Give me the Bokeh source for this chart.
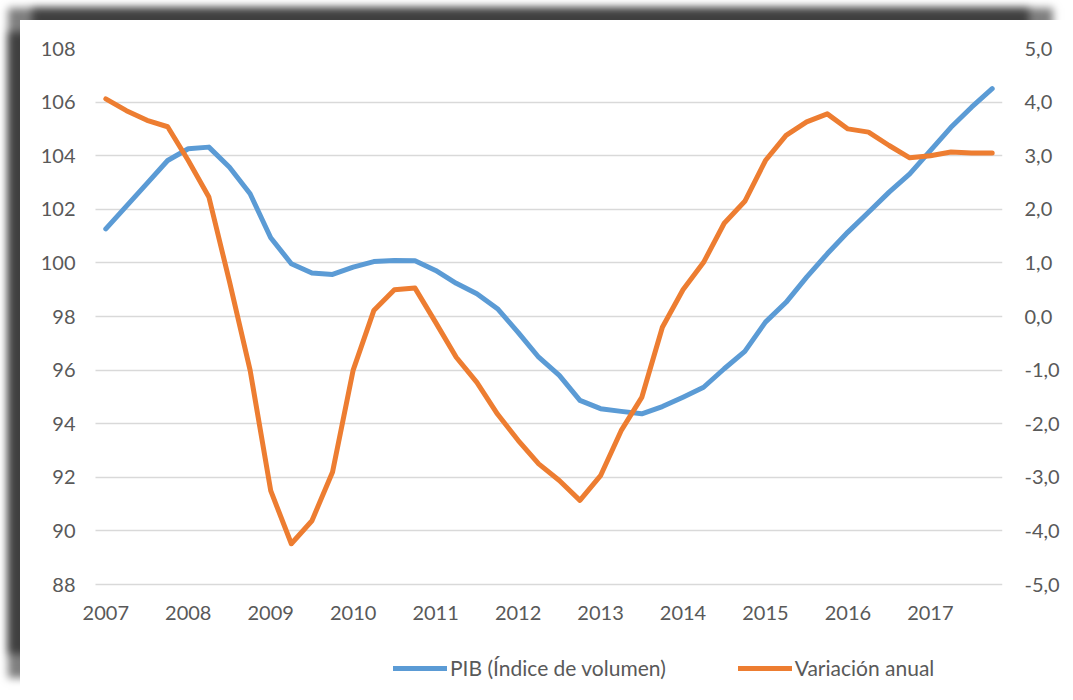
from bokeh.plotting import figure
from bokeh.models import (Range1d, LinearAxis, FixedTicker, CustomJSTickFormatter,
                          Legend, LegendItem, ColumnDataSource, Grid)
from bokeh.embed import file_html
from bokeh.resources import INLINE

# ---- data (quarterly, 2007Q1 .. 2017Q4) ----
years = ["2007", "2008", "2009", "2010", "2011", "2012",
         "2013", "2014", "2015", "2016", "2017"]

pib = [101.27, 102.12, 102.97, 103.82, 104.26, 104.32, 103.57, 102.58,
       100.94, 99.97, 99.62, 99.57, 99.84, 100.05, 100.09, 100.08,
       99.72, 99.24, 98.85, 98.29, 97.41, 96.48, 95.80, 94.87,
       94.56, 94.46, 94.37, 94.64, 94.99, 95.36, 96.05, 96.70,
       97.79, 98.53, 99.47, 100.34, 101.15, 101.89, 102.64, 103.32,
       104.19, 105.06, 105.81, 106.50]

variacion = [4.06, 3.84, 3.66, 3.54, 2.91, 2.23, 0.65, -1.00,
             -3.25, -4.24, -3.81, -2.90, -1.00, 0.11, 0.50, 0.53,
             -0.11, -0.76, -1.23, -1.82, -2.31, -2.75, -3.06, -3.43,
             -2.97, -2.13, -1.51, -0.20, 0.50, 1.01, 1.74, 2.15,
             2.91, 3.38, 3.63, 3.78, 3.50, 3.44, 3.19, 2.96,
             3.00, 3.07, 3.05, 3.05]

left_ticks = [88, 90, 92, 94, 96, 98, 100, 102, 104, 106, 108]
right_ticks = [-5, -4, -3, -2, -1, 0, 1, 2, 3, 4, 5]

label_pib = "PIB (Índice de volumen)"
label_var = "Variación anual"

# ---- styling / layout ----
FONT = "Lato"
TXT = "#595959"
BLUE = "#5B9BD5"
ORANGE = "#ED7D31"

W, H = 1045, 670
B_LEFT, B_RIGHT, TOP = 55, 63, 28
GRID_LEFT_PAD = 20      # gap between frame start and first category band
GRID_PX = 536           # pixel height between 88 and 108 gridlines

n = len(pib)
L_MIN, L_MAX = left_ticks[0], left_ticks[-1]
R_MIN, R_MAX = right_ticks[0], right_ticks[-1]

frame_w = W - B_LEFT - B_RIGHT
px_cat = (frame_w - GRID_LEFT_PAD) / n
x_start = -0.5 - GRID_LEFT_PAD / px_cat

frame_h = H - TOP
px_per_unit = GRID_PX / (L_MAX - L_MIN)
y_start = L_MAX - frame_h / px_per_unit
r_per_l = (R_MAX - R_MIN) / (L_MAX - L_MIN)
r_start = R_MIN - (L_MIN - y_start) * r_per_l

src = ColumnDataSource(dict(x=list(range(n)), pib=pib, var=variacion))

p = figure(width=W, height=H, output_backend="svg", toolbar_location=None,
           x_range=Range1d(x_start, n - 0.5), y_range=Range1d(y_start, L_MAX),
           min_border_left=B_LEFT, min_border_right=B_RIGHT, min_border_top=TOP,
           min_border_bottom=0, y_axis_location=None, x_axis_location=None)
p.extra_y_ranges = {"var": Range1d(r_start, R_MAX)}
p.outline_line_color = None
p.background_fill_color = "white"
p.border_fill_color = "white"
for gr in p.grid:
    gr.visible = False
p.styles = {"margin-left": "20px", "margin-top": "20px",
            "box-shadow": ("-24px -24px 8px -12px rgba(0,0,0,0.5), "
                           "0px -24px 8px -12px rgba(0,0,0,0.5), "
                           "-24px 0px 8px -12px rgba(0,0,0,0.5)")}


def style_axis(ax):
    ax.axis_line_color = None
    ax.major_tick_line_color = None
    ax.minor_tick_line_color = None
    ax.major_tick_out = 0
    ax.major_tick_in = 0
    ax.minor_tick_out = 0
    ax.minor_tick_in = 0
    ax.major_label_text_font = FONT
    ax.major_label_text_font_size = "20px"
    ax.major_label_text_color = TXT


# x axis, pinned to the 88 baseline
xax = LinearAxis(ticker=FixedTicker(ticks=[i * 4 for i in range(len(years))]),
                 major_label_overrides={i * 4: y for i, y in enumerate(years)},
                 major_label_standoff=21, fixed_location=L_MIN)
style_axis(xax)
p.add_layout(xax, "below")

# left axis
lax = LinearAxis(ticker=FixedTicker(ticks=left_ticks), major_label_standoff=0)
style_axis(lax)
p.add_layout(lax, "left")

# right axis
rax = LinearAxis(y_range_name="var", ticker=FixedTicker(ticks=right_ticks),
                 formatter=CustomJSTickFormatter(code="return tick.toFixed(1).replace('.', ',');"),
                 major_label_standoff=22)
style_axis(rax)
p.add_layout(rax, "right")

# horizontal grid, limited to the category span
g = Grid(dimension=1, ticker=FixedTicker(ticks=left_ticks),
         grid_line_color="#D9D9D9", grid_line_width=1.5)
if "cross_bounds" in Grid.properties():
    g.cross_bounds = (-0.5, n - 0.5)
p.add_layout(g, "center")

r1 = p.line("x", "pib", source=src, line_color=BLUE, line_width=5,
            line_join="round", line_cap="round")
r2 = p.line("x", "var", source=src, y_range_name="var", line_color=ORANGE,
            line_width=5, line_join="round", line_cap="round")

legend = Legend(items=[LegendItem(label=label_pib, renderers=[r1]),
                       LegendItem(label=label_var, renderers=[r2])],
                orientation="horizontal", location=(318, 10),
                label_text_font=FONT, label_text_font_size="21px",
                label_text_color=TXT, glyph_width=54, glyph_height=20,
                label_standoff=3, spacing=72, padding=0, margin=0,
                border_line_color=None, background_fill_alpha=0)
p.add_layout(legend, "center")

open("out.html", "w").write(file_html(p, INLINE))
